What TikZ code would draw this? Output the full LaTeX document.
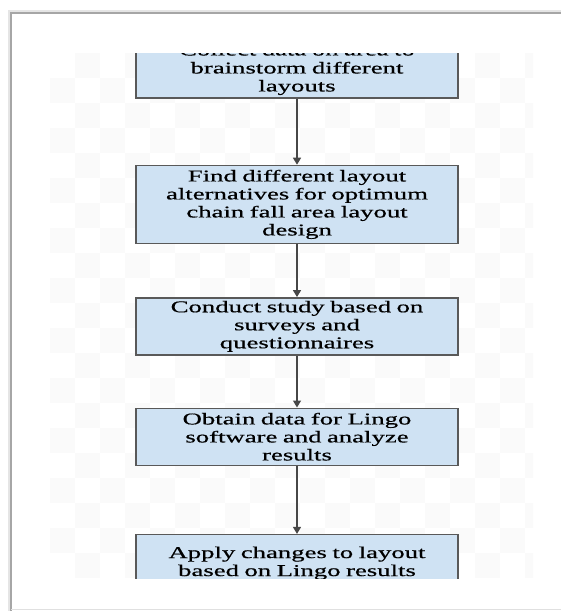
\documentclass[tikz,border=0pt]{standalone}
\usepackage{fontspec}
\setmainfont{Liberation Serif}[FakeStretch=1.62,FakeBold=0.6]
\usetikzlibrary{positioning, arrows.meta}
\definecolor{boxblue}{HTML}{CFE2F3}

\begin{document}
\begin{tikzpicture}[
    x=1pt, y=1pt,
    node distance=60pt,
    every node/.style={draw, rectangle, minimum height=57pt, text width=310pt, inner xsep=6pt, inner ysep=2pt, align=center},
    highlight/.style={draw=black!65, line width=1.4pt, fill=boxblue, font=\fontsize{16.5}{18}\selectfont},
    arrow/.style={-{Triangle[width=8pt,length=7pt]}, line width=1.4pt, draw=black!72}
]
\useasboundingbox (0,0) rectangle (561,-611);
\fill[white] (0,0) rectangle (561,-611);
\draw[black!10, line width=3pt] (561,-11) -- (9,-11) -- (9,-611);
\draw[black!35, line width=1.5pt] (561,-13) -- (11,-13) -- (11,-611);
\draw[black!12, line width=1pt] (11,-609) -- (561,-609);

\begin{scope}
\clip (50,-53) rectangle (533,-578);
\foreach \i in {0,...,19} \foreach \j in {0,...,20} {
    \pgfmathtruncatemacro\odd{mod(\i+\j,2)}
    \ifnum\odd=1 \fill[black!2] (50+25*\i,-53-25*\j) rectangle ++(25,-25); \fi
}
\node[highlight] (1) at (297,-69.5) {Collect data on area to\\ brainstorm different\\ layouts};
\node[highlight, minimum height=78pt, below=66pt of 1] (2) {Find different layout\\ alternatives for optimum\\ chain fall area layout\\ design};
\node[highlight, below=53pt of 2] (3) {Conduct study based on\\ surveys and\\ questionnaires};
\node[highlight, below=52pt of 3] (4) {Obtain data for Lingo\\ software and analyze\\ results};
\node[highlight, below=68pt of 4] (5) {Apply changes to layout\\ based on Lingo results};

\draw[arrow] (1) -- (2);
\draw[arrow] (2) -- (3);
\draw[arrow] (3) -- (4);
\draw[arrow] (4) -- (5);
\end{scope}
\end{tikzpicture}
\end{document}
